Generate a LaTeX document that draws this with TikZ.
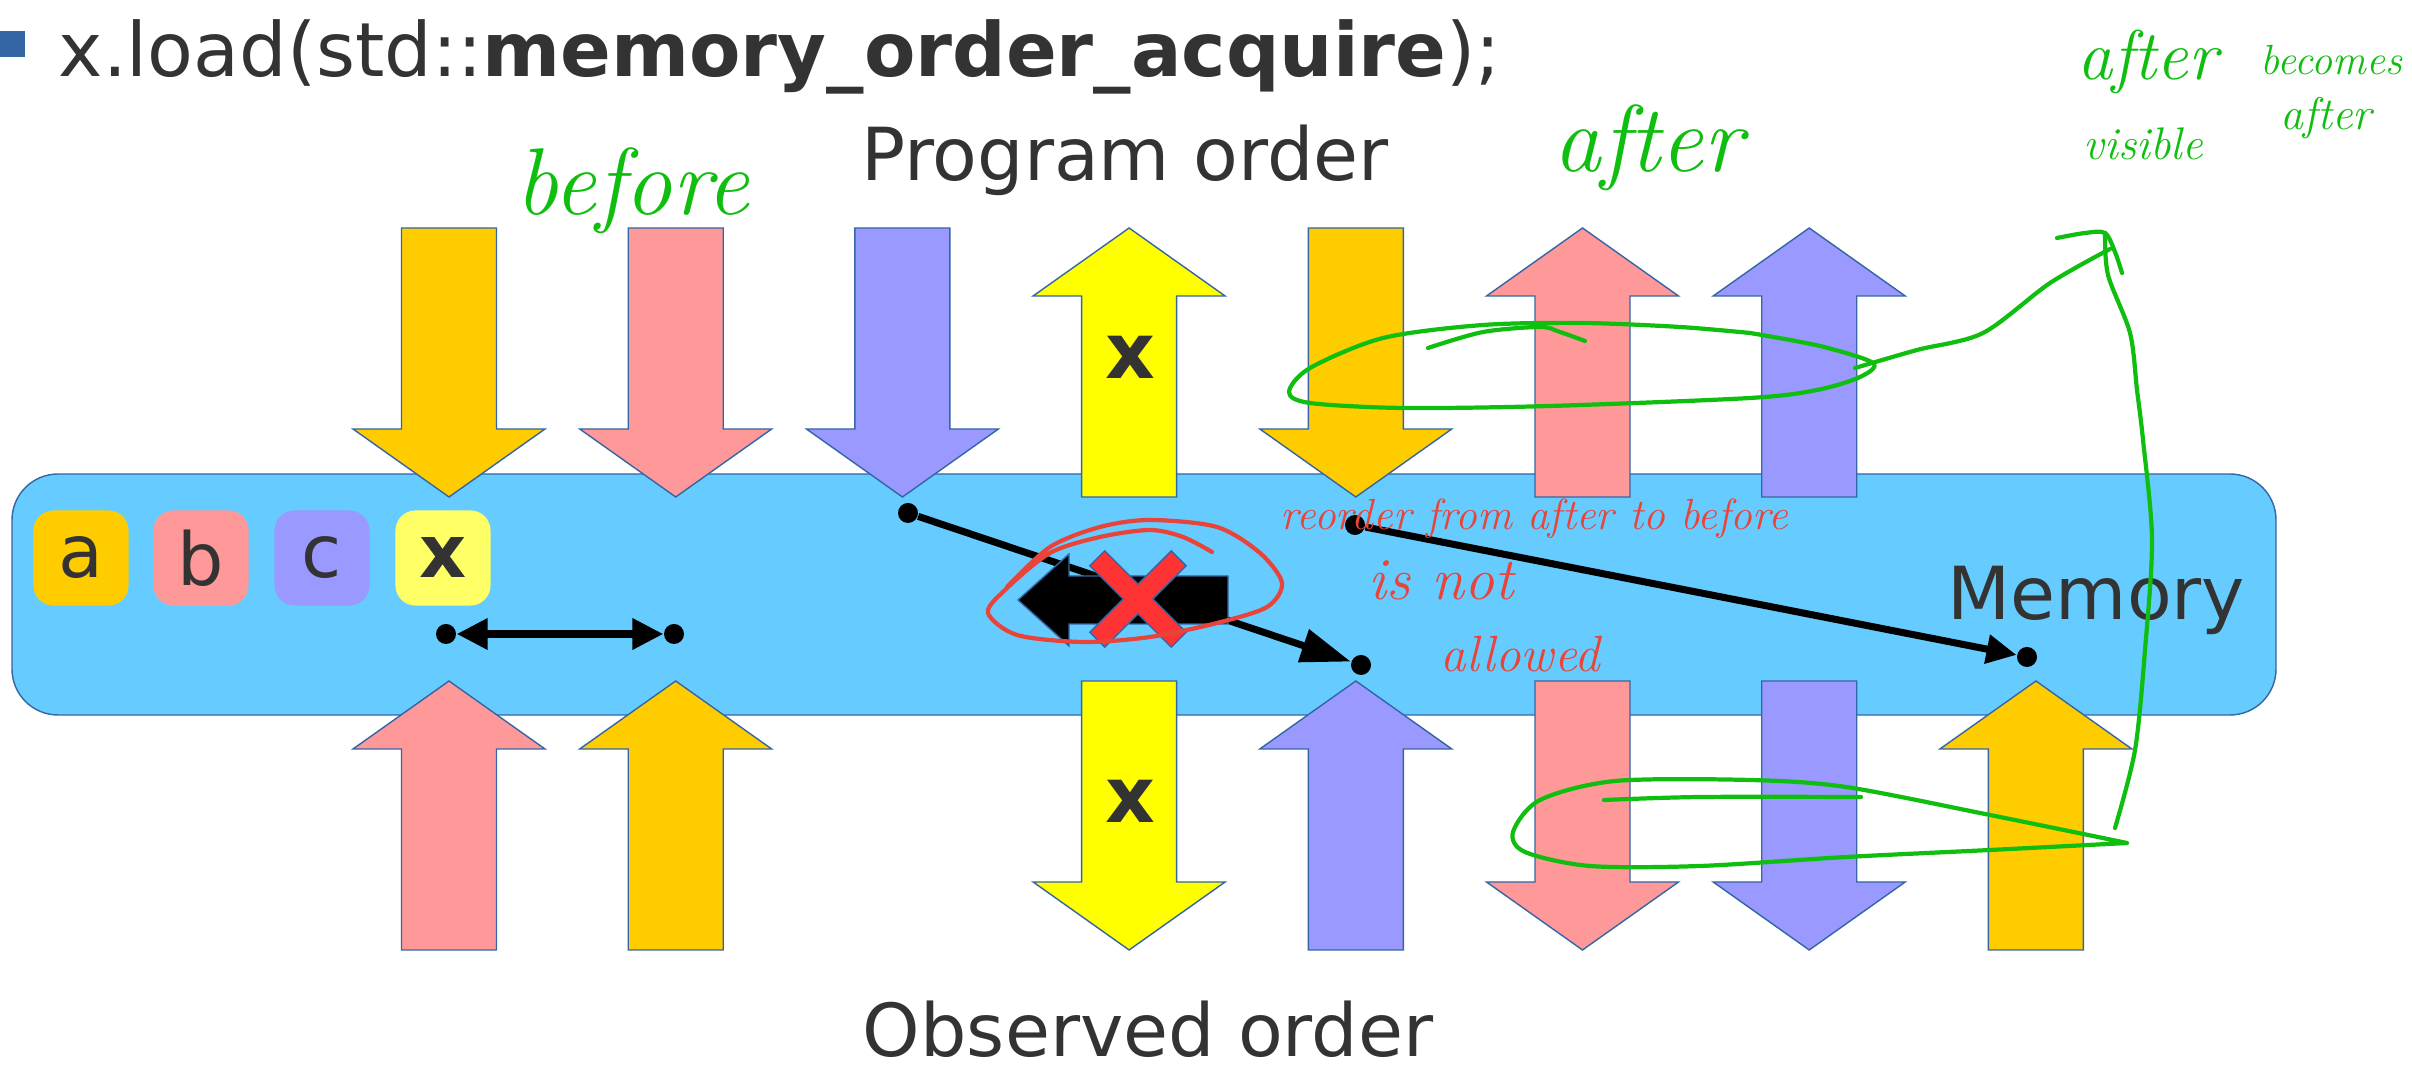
\documentclass[tikz,border=0pt]{standalone}
\usepackage{fontspec}
\newfontfamily\slidefont{DejaVu Sans}
\usetikzlibrary{arrows.meta}

\definecolor{bandblue}{HTML}{66CCFF}
\definecolor{edgeblue}{HTML}{3465A4}
\definecolor{gold}{HTML}{FFCC00}
\definecolor{salmon}{HTML}{FF9999}
\definecolor{lavender}{HTML}{9999FF}
\definecolor{lemon}{HTML}{FFFF00}
\definecolor{palelemon}{HTML}{FFFF66}
\definecolor{ink}{HTML}{333333}
\definecolor{crossred}{HTML}{FF3333}
\definecolor{penred}{HTML}{E8443A}
\definecolor{pengreen}{HTML}{10BE10}

\begin{document}
\begin{tikzpicture}[x=0.01cm,y=-0.01cm,>=Stealth,
  slide/.style={font=\slidefont\fontsize{20.8}{25}\selectfont,text=ink,inner sep=0pt},
  blk/.style={draw=edgeblue,line width=0.4pt},
  tag/.style={slide,rounded corners=0.2cm,minimum size=0.95cm},
  dot/.style={circle,fill=black,inner sep=0pt,minimum size=0.2cm},
  conn/.style={line width=2pt},
  pen/.style={line width=1.2pt,line cap=round,line join=round},
  hand/.style={inner sep=0pt,anchor=base west}]
  \useasboundingbox (0,0) rectangle (2412,1071);

  % heading
  \fill[edgeblue] (0,31) rectangle (25,57);
  \node[slide,font=\slidefont\fontsize{21.3}{25}\selectfont,anchor=base west] (title) at (58,77)
    {x.load(std::\textbf{memory\_order\_acquire});};
  \node[slide,anchor=base] (prog) at (1125,181) {Program order};
  \node[slide,anchor=base] (obs) at (1148,1057) {Observed order};

  % memory band
  \draw[blk,fill=bandblue,rounded corners=0.46cm] (12,474) rectangle (2276,715);
  \node[slide,anchor=base west] (mem) at (1947,620) {Memory};

  % block arrows, column c centred at 449+(c-1)*226.7
  \foreach \c/\f/\t in {1/gold/228,2/salmon/228,3/lavender/228,5/gold/228,
                        4/lemon/681,6/salmon/681,7/lavender/681}
    \filldraw[blk,fill=\f] ({449+(\c-1)*226.7-47.5},\t) -- ++(95,0) -- ++(0,201)
      -- ++(48.5,0) -- ++(-96,68) -- ++(-96,-68) -- ++(48.5,0) -- cycle;
  \foreach \c/\f/\t in {4/lemon/228,6/salmon/228,7/lavender/228,
                        1/salmon/681,2/gold/681,5/lavender/681,8/gold/681}
    \filldraw[blk,fill=\f] ({449+(\c-1)*226.7},\t) -- ++(96,68) -- ++(-48.5,0)
      -- ++(0,201) -- ++(-95,0) -- ++(0,-201) -- ++(-48.5,0) -- cycle;
  \node[slide,font=\slidefont\bfseries\fontsize{22}{26}\selectfont] (xtop) at (1130,357) {x};
  \node[slide,font=\slidefont\bfseries\fontsize{22}{26}\selectfont] (xbot) at (1130,801) {x};

  % variables
  \node[tag,fill=gold] (ta) at (81,558) {a};
  \node[tag,fill=salmon] (tb) at (201,558) {b};
  \node[tag,fill=lavender] (tc) at (322,558) {c};
  \node[tag,fill=palelemon] (tx) at (443,558) {\textbf{x}};

  % reorderings
  \node[dot] (p1) at (446,634) {};
  \node[dot] (p2) at (674,634) {};
  \node[dot] (p3) at (908,513) {};
  \node[dot] (p4) at (1361,665) {};
  \node[dot] (p5) at (1355,525) {};
  \node[dot] (p6) at (2027,657) {};
  \draw[conn,{Triangle[length=0.31cm,width=0.3cm]}-{Triangle[length=0.31cm,width=0.3cm]}] (p1) -- (p2);
  \draw[conn,-{Triangle[length=0.5cm,width=0.33cm]}] (p3) -- (p4);
  \draw[conn,-{Triangle[length=0.3cm,width=0.28cm]}] (p5) -- (p6);

  % forbidden move
  \filldraw[blk,fill=black] (1228,576) -- (1069,576) -- (1069,554) -- (1018,600)
    -- (1069,646) -- (1069,624) -- (1228,624) -- cycle;
  \filldraw[blk,fill=crossred,shift={(1138,599)},rotate=45]
    (10.5,10.5) -- (57.5,10.5) -- (57.5,-10.5) -- (10.5,-10.5) -- (10.5,-57.5)
    -- (-10.5,-57.5) -- (-10.5,-10.5) -- (-57.5,-10.5) -- (-57.5,10.5)
    -- (-10.5,10.5) -- (-10.5,57.5) -- (10.5,57.5) -- cycle;

  % red notes
  \draw[pen,penred] plot[smooth] coordinates {(1212,552) (1183,537) (1150,530)
    (1100,537) (1050,553) (1005,590) (988,613) (1017,635) (1083,642) (1150,637)
    (1217,623) (1267,607) (1282,583) (1260,553) (1217,527) (1150,520) (1100,527)
    (1050,547) (1007,587)};
  \node[hand,text=penred,font=\rmfamily\itshape\fontsize{12.4}{15}\selectfont] (nreorder) at (1280,530)
    {reorder from after to before};
  \node[hand,text=penred,font=\rmfamily\itshape\fontsize{17}{20}\selectfont] (nisnot) at (1368,600) {is not};
  \node[hand,text=penred,font=\rmfamily\itshape\fontsize{14.5}{17}\selectfont] (nallowed) at (1440,672) {allowed};

  % green notes
  \node[hand,text=pengreen,font=\rmfamily\itshape\fontsize{27}{30}\selectfont] (gbefore) at (515,215) {before};
  \node[hand,text=pengreen,font=\rmfamily\itshape\fontsize{27}{30}\selectfont] (gafter) at (1553,172) {after};
  \node[hand,text=pengreen,font=\rmfamily\itshape\fontsize{20}{24}\selectfont] (gafter2) at (2077,80) {after};
  \node[hand,text=pengreen,font=\rmfamily\itshape\fontsize{12}{14}\selectfont] (gbecomes) at (2260,75) {becomes};
  \node[hand,text=pengreen,font=\rmfamily\itshape\fontsize{13}{15}\selectfont] (gvisible) at (2083,160) {visible};
  \node[hand,text=pengreen,font=\rmfamily\itshape\fontsize{13}{15}\selectfont] (gafter3) at (2280,130) {after};

  \draw[pen,pengreen] plot[smooth] coordinates {(1585,341) (1560,332) (1540,327)
    (1483,332) (1428,348)};
  \draw[pen,pengreen] plot[smooth] coordinates {(1750,333) (1820,346) (1873,363)
    (1860,377) (1817,390) (1750,398) (1550,406) (1403,408) (1310,403) (1289,392)
    (1310,368) (1383,338) (1483,325) (1583,323) (1680,327) (1750,333)};
  \draw[pen,pengreen] plot[smooth] coordinates {(1855,368) (1917,350) (1983,333)
    (2050,283) (2110,249)};
  \draw[pen,pengreen] plot[smooth] coordinates {(2057,238) (2085,233) (2105,233)
    (2115,252) (2122,273)};
  \draw[pen,pengreen] plot[smooth] coordinates {(2105,233) (2108,275) (2130,333)
    (2137,390) (2143,440) (2152,540) (2145,650) (2135,750) (2115,828)};
  \draw[pen,pengreen] plot[smooth] coordinates {(1604,800) (1700,797) (1861,797)};
  \draw[pen,pengreen] plot[smooth] coordinates {(2127,843) (1990,850) (1846,857)
    (1700,866) (1590,866) (1525,852) (1513,832) (1540,800) (1615,781) (1750,780)
    (1846,787) (1990,815) (2127,843)};
\end{tikzpicture}
\end{document}
